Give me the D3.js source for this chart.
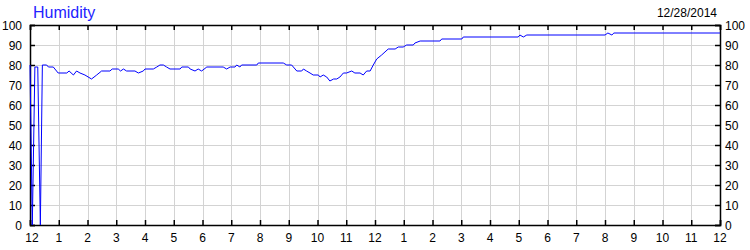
<!DOCTYPE html>
<html lang="en">
    <head>
        <meta charset="utf-8">
        <title>Humidity</title>
        <script type="text/javascript" src="https://cdn.jsdelivr.net/npm/d3@7"></script>
        <style>
            body { margin: 0; background: #fff; }
            text { font-family: "Liberation Sans", Arial, sans-serif; }
        </style>
    </head>
    <body>
        <script type="text/javascript">

            // hours since the left edge, and humidity (%)
            var hours = [0, 0.08, 0.17, 0.27, 0.36, 0.43, 0.58, 0.64, 0.81, 0.98,
                1.28, 1.36, 1.51, 1.62, 1.74, 1.91, 2.14, 2.32, 2.49, 2.78,
                2.86, 3.07, 3.15, 3.25, 3.36, 3.65, 3.77, 3.94, 4.0, 4.29,
                4.41, 4.52, 4.64, 4.75, 4.87, 5.22, 5.28, 5.51, 5.57, 5.74,
                5.85, 5.97, 6.15, 6.61, 6.72, 6.84, 6.96, 7.13, 7.19, 7.30,
                7.36, 7.89, 7.94, 8.81, 8.93, 9.10, 9.28, 9.45, 9.51, 9.62,
                9.74, 9.85, 10.03, 10.09, 10.20, 10.32, 10.43, 10.56, 10.67, 10.78,
                10.90, 11.01, 11.19, 11.30, 11.48, 11.59, 11.71, 11.83, 11.94, 12.06,
                12.23, 12.46, 12.70, 12.81, 12.98, 13.10, 13.33, 13.39, 13.57, 14.26,
                14.32, 15.02, 15.07, 16.98, 17.04, 17.16, 17.28, 20.0, 20.10, 20.24,
                20.31, 24.0];
            var humidity = [80, 0, 79, 79, 0, 80, 80, 79, 79, 76,
                76, 77, 75, 77, 76, 75, 73, 75, 77, 77,
                78, 78, 77, 78, 77, 77, 76, 77, 78, 78,
                79, 80, 80, 79, 78, 78, 79, 79, 78, 77,
                78, 77, 79, 79, 79, 78, 79, 79, 80, 79,
                80, 80, 81, 81, 80, 80, 77, 77, 78, 77,
                76, 75, 75, 74, 75, 74, 72, 73, 73, 74,
                76, 76, 77, 76, 76, 75, 77, 77, 80, 83,
                85, 88, 88, 89, 89, 90, 90, 91, 92, 92,
                93, 93, 94, 94, 95, 94, 95, 95, 96, 95,
                96, 96];

            var xTickLabels = ["12", "1", "2", "3", "4", "5", "6", "7", "8", "9", "10", "11",
                               "12", "1", "2", "3", "4", "5", "6", "7", "8", "9", "10", "11", "12"];
            var yTicks = [0, 10, 20, 30, 40, 50, 60, 70, 80, 90, 100];
            var title = "Humidity";
            var dateLabel = "12/28/2014";

            var w = 750;
            var h = 250;
            var padL = 30, padR = 720, padT = 25, padB = 225;

            var xScale = d3.scaleLinear()
                    .domain([0, 24])
                    .range([padL, padR]);

            var yScale = d3.scaleLinear()
                    .domain([0, 100])
                    .range([padB, padT]);

            var svg = d3.select("body")
                    .append("svg")
                    .attr("width", w)
                    .attr("height", h);

            var xIdx = d3.range(xTickLabels.length);

            // grid
            svg.append("g")
                .selectAll("line")
                .data(xIdx.slice(1, -1))
                .enter()
                .append("line")
                .attr("x1", function(d) { return Math.round(xScale(d)) + 0.5; })
                .attr("x2", function(d) { return Math.round(xScale(d)) + 0.5; })
                .attr("y1", padT)
                .attr("y2", padB)
                .attr("stroke", "#d3d3d3");

            svg.append("g")
                .selectAll("line")
                .data(yTicks.slice(1, -1))
                .enter()
                .append("line")
                .attr("x1", padL)
                .attr("x2", padR)
                .attr("y1", function(d) { return Math.round(yScale(d)) + 0.5; })
                .attr("y2", function(d) { return Math.round(yScale(d)) + 0.5; })
                .attr("stroke", "#d3d3d3");

            // axes, ticks pointing inward
            var xBottom = d3.axisTop(xScale)
                    .tickValues(xIdx)
                    .tickSize(5)
                    .tickFormat("");
            var xTop = d3.axisBottom(xScale)
                    .tickValues(xIdx)
                    .tickSize(5)
                    .tickFormat("");
            var yLeft = d3.axisRight(yScale)
                    .tickValues(yTicks)
                    .tickSize(5)
                    .tickFormat("");
            var yRight = d3.axisLeft(yScale)
                    .tickValues(yTicks)
                    .tickSize(5)
                    .tickFormat("");

            svg.append("g").attr("class", "axis").attr("transform", "translate(0," + padB + ")").call(xBottom);
            svg.append("g").attr("class", "axis").attr("transform", "translate(0," + padT + ")").call(xTop);
            svg.append("g").attr("class", "axis").attr("transform", "translate(" + padL + ",0)").call(yLeft);
            svg.append("g").attr("class", "axis").attr("transform", "translate(" + padR + ",0)").call(yRight);

            svg.selectAll(".axis path, .axis line")
                .attr("stroke", "#000")
                .attr("stroke-width", 1.5);

            // tick labels
            svg.append("g")
                .selectAll("text")
                .data(xIdx)
                .enter()
                .append("text")
                .attr("x", function(d) { return xScale(d) + (d === 0 ? 2 : 0); })
                .attr("y", 242)
                .attr("text-anchor", "middle")
                .attr("font-size", "12px")
                .attr("fill", "#000")
                .text(function(d) { return xTickLabels[d]; });

            svg.append("g")
                .selectAll("text")
                .data(yTicks)
                .enter()
                .append("text")
                .attr("x", 22)
                .attr("y", function(d) { return yScale(d) + 4.5; })
                .attr("text-anchor", "end")
                .attr("font-size", "12px")
                .attr("fill", "#000")
                .text(function(d) { return d; });

            svg.append("g")
                .selectAll("text")
                .data(yTicks)
                .enter()
                .append("text")
                .attr("x", 725)
                .attr("y", function(d) { return yScale(d) + 4.5; })
                .attr("text-anchor", "start")
                .attr("font-size", "12px")
                .attr("fill", "#000")
                .text(function(d) { return d; });

            // humidity line
            var line = d3.line()
                    .x(function(d) { return xScale(d); })
                    .y(function(d, i) { return yScale(humidity[i]); });

            svg.append("path")
                .datum(hours)
                .attr("d", line)
                .attr("fill", "none")
                .attr("stroke", "#0000ff")
                .attr("stroke-width", 1);

            svg.append("text")
                .attr("x", 33)
                .attr("y", 18)
                .attr("font-size", "16px")
                .attr("fill", "#2222ff")
                .text(title);

            svg.append("text")
                .attr("x", 717)
                .attr("y", 17)
                .attr("text-anchor", "end")
                .attr("font-size", "12px")
                .attr("fill", "#000")
                .text(dateLabel);

        </script>
    </body>
</html>
